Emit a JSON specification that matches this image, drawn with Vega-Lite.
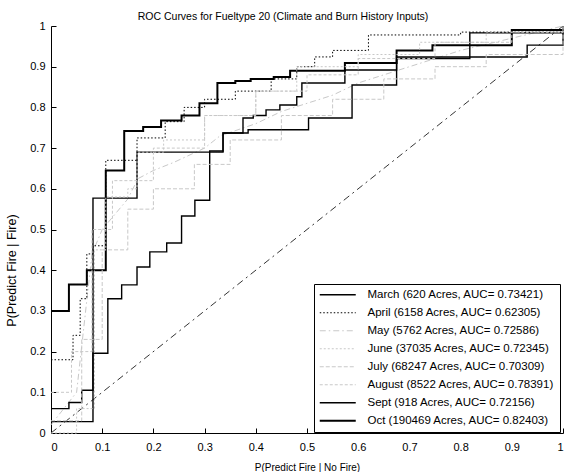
{
 "$schema": "https://vega.github.io/schema/vega-lite/v6.json",
 "width": 512, "height": 407,
 "autosize": {"type": "none"},
 "padding": {"left": 51, "top": 26, "right": 3, "bottom": 39},
 "background": "white",
 "title": {"text": "ROC Curves for Fueltype 20 (Climate and Burn History Inputs)", "anchor": "middle", "fontSize": 10.5, "fontWeight": "normal", "font": "Liberation Sans", "color": "black", "offset": -2, "dx": -24},
 "config": {
  "view": {"stroke": null},
  "axis": {"grid": false, "domainColor": "black", "domainWidth": 1, "tickColor": "black", "tickSize": -5, "labelColor": "black", "labelFont": "Liberation Sans", "labelFontSize": 11, "titleFont": "Liberation Sans", "titleFontSize": 10, "titleFontWeight": "normal", "titleColor": "black"},
  "legend": {"labelFont": "Liberation Sans", "labelFontSize": 11.5, "labelColor": "black"}
 },
 "datasets": {
  "chance": [{"x": 0, "y": 0}, {"x": 1, "y": 1}],
  "smooth": [
   {"m": "May", "x": 0, "y": 0.02}, {"m": "May", "x": 0.05, "y": 0.1}, {"m": "May", "x": 0.08, "y": 0.44}, {"m": "May", "x": 0.1, "y": 0.5}, {"m": "May", "x": 0.13, "y": 0.545}, {"m": "May", "x": 0.15, "y": 0.575}, {"m": "May", "x": 0.17, "y": 0.625}, {"m": "May", "x": 0.2, "y": 0.645}, {"m": "May", "x": 0.24, "y": 0.665}, {"m": "May", "x": 0.3, "y": 0.7}, {"m": "May", "x": 0.33, "y": 0.73}, {"m": "May", "x": 0.4, "y": 0.76}, {"m": "May", "x": 0.45, "y": 0.79}, {"m": "May", "x": 0.5, "y": 0.81}, {"m": "May", "x": 0.55, "y": 0.83}, {"m": "May", "x": 0.6, "y": 0.86}, {"m": "May", "x": 0.7, "y": 0.9}, {"m": "May", "x": 0.8, "y": 0.94}, {"m": "May", "x": 0.9, "y": 0.97}, {"m": "May", "x": 1, "y": 1}
  ],
  "stairs": [
   {"m": "Oct", "x": 0, "y": 0.30}, {"m": "Oct", "x": 0.035, "y": 0.365}, {"m": "Oct", "x": 0.07, "y": 0.40}, {"m": "Oct", "x": 0.107, "y": 0.645}, {"m": "Oct", "x": 0.143, "y": 0.742}, {"m": "Oct", "x": 0.18, "y": 0.752}, {"m": "Oct", "x": 0.215, "y": 0.768}, {"m": "Oct", "x": 0.255, "y": 0.78}, {"m": "Oct", "x": 0.29, "y": 0.81}, {"m": "Oct", "x": 0.325, "y": 0.86}, {"m": "Oct", "x": 0.36, "y": 0.865}, {"m": "Oct", "x": 0.39, "y": 0.87}, {"m": "Oct", "x": 0.435, "y": 0.875}, {"m": "Oct", "x": 0.467, "y": 0.89}, {"m": "Oct", "x": 0.574, "y": 0.909}, {"m": "Oct", "x": 0.675, "y": 0.94}, {"m": "Oct", "x": 0.745, "y": 0.953}, {"m": "Oct", "x": 0.9, "y": 0.99}, {"m": "Oct", "x": 1, "y": 1},
   {"m": "March", "x": 0, "y": 0.06}, {"m": "March", "x": 0.035, "y": 0.075}, {"m": "March", "x": 0.06, "y": 0.105}, {"m": "March", "x": 0.082, "y": 0.577}, {"m": "March", "x": 0.168, "y": 0.69}, {"m": "March", "x": 0.336, "y": 0.737}, {"m": "March", "x": 0.375, "y": 0.774}, {"m": "March", "x": 0.395, "y": 0.78}, {"m": "March", "x": 0.42, "y": 0.794}, {"m": "March", "x": 0.447, "y": 0.806}, {"m": "March", "x": 0.48, "y": 0.826}, {"m": "March", "x": 0.49, "y": 0.86}, {"m": "March", "x": 0.574, "y": 0.892}, {"m": "March", "x": 0.675, "y": 0.92}, {"m": "March", "x": 0.818, "y": 0.983}, {"m": "March", "x": 1, "y": 1},
   {"m": "Sept", "x": 0, "y": 0.028}, {"m": "Sept", "x": 0.082, "y": 0.196}, {"m": "Sept", "x": 0.111, "y": 0.33}, {"m": "Sept", "x": 0.138, "y": 0.364}, {"m": "Sept", "x": 0.168, "y": 0.408}, {"m": "Sept", "x": 0.193, "y": 0.445}, {"m": "Sept", "x": 0.226, "y": 0.467}, {"m": "Sept", "x": 0.255, "y": 0.533}, {"m": "Sept", "x": 0.281, "y": 0.572}, {"m": "Sept", "x": 0.31, "y": 0.693}, {"m": "Sept", "x": 0.336, "y": 0.737}, {"m": "Sept", "x": 0.385, "y": 0.745}, {"m": "Sept", "x": 0.503, "y": 0.774}, {"m": "Sept", "x": 0.588, "y": 0.855}, {"m": "Sept", "x": 0.675, "y": 0.924}, {"m": "Sept", "x": 0.93, "y": 0.953}, {"m": "Sept", "x": 1, "y": 1},
   {"m": "April", "x": 0, "y": 0.18}, {"m": "April", "x": 0.043, "y": 0.24}, {"m": "April", "x": 0.057, "y": 0.33}, {"m": "April", "x": 0.07, "y": 0.44}, {"m": "April", "x": 0.082, "y": 0.46}, {"m": "April", "x": 0.107, "y": 0.67}, {"m": "April", "x": 0.168, "y": 0.725}, {"m": "April", "x": 0.223, "y": 0.765}, {"m": "April", "x": 0.26, "y": 0.80}, {"m": "April", "x": 0.3, "y": 0.82}, {"m": "April", "x": 0.36, "y": 0.84}, {"m": "April", "x": 0.43, "y": 0.87}, {"m": "April", "x": 0.48, "y": 0.90}, {"m": "April", "x": 0.515, "y": 0.924}, {"m": "April", "x": 0.55, "y": 0.94}, {"m": "April", "x": 0.62, "y": 0.978}, {"m": "April", "x": 0.8, "y": 0.985}, {"m": "April", "x": 1, "y": 1},
   {"m": "June", "x": 0, "y": 0.0}, {"m": "June", "x": 0.05, "y": 0.06}, {"m": "June", "x": 0.085, "y": 0.45}, {"m": "June", "x": 0.107, "y": 0.58}, {"m": "June", "x": 0.15, "y": 0.60}, {"m": "June", "x": 0.168, "y": 0.69}, {"m": "June", "x": 0.22, "y": 0.72}, {"m": "June", "x": 0.3, "y": 0.78}, {"m": "June", "x": 0.4, "y": 0.84}, {"m": "June", "x": 0.48, "y": 0.90}, {"m": "June", "x": 0.6, "y": 0.93}, {"m": "June", "x": 0.72, "y": 0.96}, {"m": "June", "x": 0.85, "y": 0.985}, {"m": "June", "x": 1, "y": 1},
   {"m": "July", "x": 0, "y": 0.03}, {"m": "July", "x": 0.06, "y": 0.23}, {"m": "July", "x": 0.1, "y": 0.45}, {"m": "July", "x": 0.15, "y": 0.55}, {"m": "July", "x": 0.2, "y": 0.6}, {"m": "July", "x": 0.28, "y": 0.66}, {"m": "July", "x": 0.35, "y": 0.72}, {"m": "July", "x": 0.45, "y": 0.78}, {"m": "July", "x": 0.55, "y": 0.82}, {"m": "July", "x": 0.65, "y": 0.87}, {"m": "July", "x": 0.75, "y": 0.9}, {"m": "July", "x": 0.85, "y": 0.93}, {"m": "July", "x": 1, "y": 1},
   {"m": "August", "x": 0, "y": 0.1}, {"m": "August", "x": 0.04, "y": 0.2}, {"m": "August", "x": 0.08, "y": 0.5}, {"m": "August", "x": 0.12, "y": 0.62}, {"m": "August", "x": 0.2, "y": 0.7}, {"m": "August", "x": 0.3, "y": 0.78}, {"m": "August", "x": 0.4, "y": 0.84}, {"m": "August", "x": 0.5, "y": 0.88}, {"m": "August", "x": 0.6, "y": 0.92}, {"m": "August", "x": 0.75, "y": 0.96}, {"m": "August", "x": 0.9, "y": 0.985}, {"m": "August", "x": 1, "y": 1}
  ]
 },
 "encoding": {
  "x": {"field": "x", "type": "quantitative", "scale": {"domain": [0, 1], "nice": false, "zero": false},
        "axis": {"values": [0, 0.1, 0.2, 0.3, 0.4, 0.5, 0.6, 0.7, 0.8, 0.9, 1], "format": ".1~f", "labelPadding": 13, "title": "P(Predict Fire | No Fire)", "titleY": 29}},
  "y": {"field": "y", "type": "quantitative", "scale": {"domain": [0, 1], "nice": false, "zero": false},
        "axis": {"values": [0, 0.1, 0.2, 0.3, 0.4, 0.5, 0.6, 0.7, 0.8, 0.9, 1], "format": ".1~f", "labelPadding": 11, "title": "P(Predict Fire | Fire)", "titleFontSize": 12.5, "titleX": -33, "titleY": 244}}
 },
 "layer": [
  {"data": {"name": "chance"}, "mark": {"type": "line", "color": "black", "strokeDash": [7, 4, 2, 4], "strokeWidth": 0.8}},
  {"data": {"name": "smooth"}, "mark": {"type": "line", "interpolate": "linear"},
   "encoding": {
    "color": {"field": "m", "type": "nominal", "title": null,
      "scale": {"domain": ["March", "April", "May", "June", "July", "August", "Sept", "Oct"], "range": ["black", "black", "#c8c8c8", "#c8c8c8", "#c8c8c8", "#c8c8c8", "black", "black"]},
      "legend": {"orient": "none", "legendX": 263, "legendY": 258, "strokeColor": "black", "fillColor": "white", "padding": 5, "rowPadding": 5, "symbolType": "M-3.6,0H3.6", "symbolSize": 100, "symbolOffset": 13, "labelOffset": 24, "labelLimit": 400,
        "labelExpr": "datum.label == 'March' ? 'March (620 Acres, AUC= 0.73421)' : datum.label == 'April' ? 'April (6158 Acres, AUC= 0.62305)' : datum.label == 'May' ? 'May (5762 Acres, AUC= 0.72586)' : datum.label == 'June' ? 'June (37035 Acres, AUC= 0.72345)' : datum.label == 'July' ? 'July (68247 Acres, AUC= 0.70309)' : datum.label == 'August' ? 'August (8522 Acres, AUC= 0.78391)' : datum.label == 'Sept' ? 'Sept (918 Acres, AUC= 0.72156)' : 'Oct (190469 Acres, AUC= 0.82403)'",
        "encode": {"symbols": {"update": {"strokeWidth": {"signal": "datum.value === 'Oct' ? 2 : (datum.value === 'March' || datum.value === 'Sept') ? 1.4 : 1"}}}}}},
    "strokeDash": {"field": "m", "type": "nominal", "title": null,
      "scale": {"domain": ["March", "April", "May", "June", "July", "August", "Sept", "Oct"], "range": [[1, 0], [1.5, 2], [6, 3, 1.5, 3], [2, 2], [4, 2], [3, 2], [1, 0], [1, 0]]}},
    "strokeWidth": {"value": 1}
   }},
  {"data": {"name": "stairs"}, "mark": {"type": "line", "interpolate": "step-after"},
   "encoding": {
    "color": {"field": "m", "type": "nominal", "title": null},
    "strokeDash": {"field": "m", "type": "nominal", "title": null},
    "strokeWidth": {"condition": [{"test": "datum.m === 'Oct'", "value": 2}, {"test": "datum.m === 'March' || datum.m === 'Sept'", "value": 1.4}], "value": 1}
   }}
 ]
}
